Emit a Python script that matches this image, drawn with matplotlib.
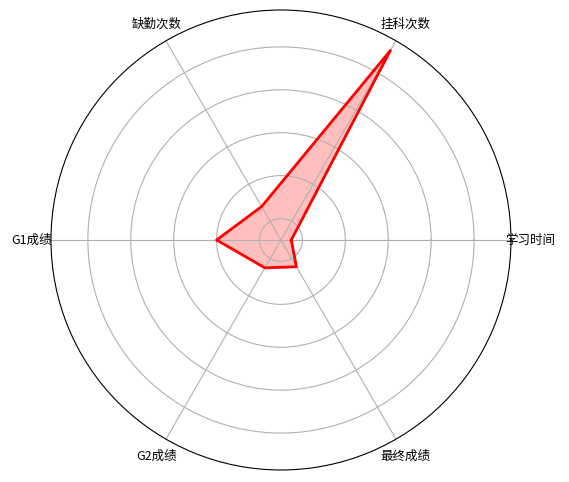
import numpy as np
import matplotlib.pyplot as plt

plt.rcParams['font.family'] = ['Noto Sans CJK SC', 'DejaVu Sans']

labels = ['学习时间', '挂科次数', '缺勤次数', 'G1成绩', 'G2成绩', '最终成绩']
values = [-1.26, 3.6, -0.6, 0.0, -0.75, -0.78]

n = len(labels)
angles = np.linspace(0, 2 * np.pi, n, endpoint=False)
ang = np.concatenate([angles, angles[:1]])
vals = np.concatenate([values, values[:1]])

fig = plt.figure(figsize=(5.69, 4.82), dpi=100)
ax = fig.add_axes([0.0896, 0.0249, 0.8084, 0.9544], polar=True)

ax.plot(ang, vals, color='red', linewidth=2)
ax.fill(ang, vals, color='red', alpha=0.25)

ax.set_thetagrids(np.degrees(angles), labels, fontsize=9)
ax.set_ylim(-1.5, 3.86)
ax.set_yticks([-1, 0, 1, 2, 3])
ax.set_yticklabels([])

fig.savefig('out.png', dpi=100)
